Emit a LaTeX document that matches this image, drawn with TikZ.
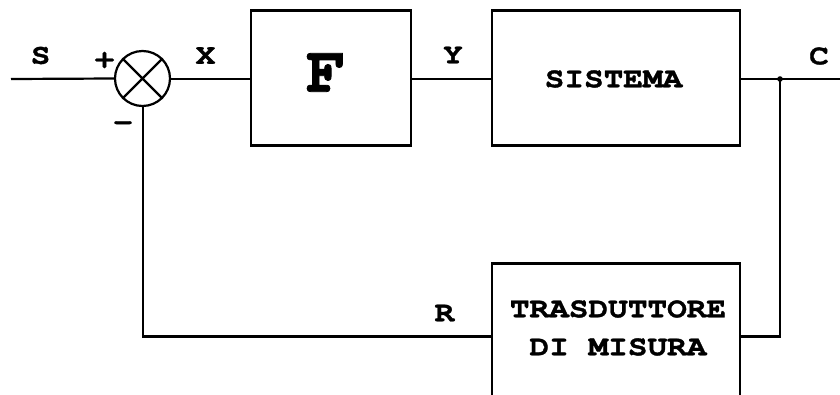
\documentclass[tikz,border=0pt]{standalone}
\usepackage{fontspec}
\newfontfamily\curw{texgyrecursor-bold.otf}[FakeStretch=1.15,FakeBold=1.2]
\newfontfamily\curf{texgyrecursor-bold.otf}[FakeBold=1.2]
\begin{document}
\begin{tikzpicture}[x=1pt,y=-1pt,line width=2.2pt,
  blk/.style={draw,rectangle,inner sep=0pt},
  lbl/.style={font=\fontsize{28.5}{32}\selectfont\curw,inner sep=0pt},
  txt/.style={font=\fontsize{28.5}{38}\selectfont\curw,inner sep=0pt,align=center},
  sumc/.style={draw,circle,minimum size=55pt,inner sep=0pt}]
\useasboundingbox (0,0) rectangle (840,394);
\clip (0,0) rectangle (840,394);
\coordinate (in) at (11,79);
\node[sumc] (sum) at (142.5,78.5) {};
\draw (sum.north west) -- (sum.south east) (sum.north east) -- (sum.south west);
\node[blk,minimum width=160pt,minimum height=135pt] (F) at (331,78) {};
\node[font=\fontsize{66}{70}\selectfont\curf,inner sep=0pt] (Ft) at (326,72.5) {F};
\node[blk,minimum width=248pt,minimum height=135pt] (sys) at (616,78) {};
\node[txt] (syst) at (613.5,79) {SISTEMA};
\node[blk,minimum width=248pt,minimum height=135pt] (tr) at (616,331) {};
\node[txt] (trt) at (618,328) {TRASDUTTORE\\DI MISURA};
\coordinate (out) at (845,79);
\coordinate (br) at (780,79);
\coordinate (brd) at (780,336.5);
\coordinate (fbl) at (143,336.5);
\draw (in) -- (sum.west);
\draw (sum.east |- in) -- (F.west |- in);
\draw (F.east |- in) -- (sys.west |- in);
\draw (sys.east |- in) -- (out);
\fill (br) circle (2.8pt);
\draw (br) -- (brd) -- (tr.east |- brd);
\draw (tr.west |- fbl) -- (fbl) -- (sum.south -| fbl);
\node[lbl] (lS) at (40.5,55.5) {S};
\node[lbl] (lp) at (104.5,60) {+};
\node[lbl] (lm) at (123,126) {-};
\node[lbl] (lX) at (205.5,55.5) {X};
\node[lbl] (lY) at (453,55) {Y};
\node[lbl] (lC) at (819,56) {C};
\node[lbl] (lR) at (444.5,313) {R};
\end{tikzpicture}
\end{document}
